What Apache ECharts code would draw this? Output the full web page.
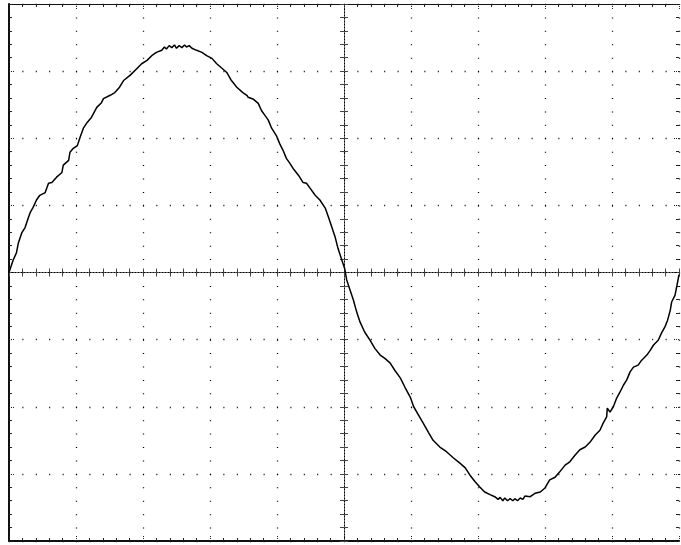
<!DOCTYPE html>
<html><head><meta charset="utf-8">
<script src="https://cdn.jsdelivr.net/npm/echarts@6/dist/echarts.min.js"></script>
<style>html,body{margin:0;padding:0;background:#fff}#c{width:681px;height:545px}</style>
</head><body><div id="c"></div>
<script>
const timeDiv = [
-5.00,-4.94,-4.89,-4.86,-4.81,-4.76,-4.71,-4.68,-4.64,-4.59,-4.54,-4.46,-4.41,-4.36,-4.29,-4.21,-4.19,-4.11,-4.09,-4.04,
-3.98,-3.94,-3.89,-3.83,-3.77,-3.69,-3.62,-3.59,-3.49,-3.42,-3.35,-3.29,-3.19,-3.09,-3.02,-2.94,-2.87,-2.80,-2.72,-2.68,
-2.65,-2.61,-2.57,-2.53,-2.50,-2.46,-2.42,-2.38,-2.35,-2.31,-2.27,-2.20,-2.12,-2.05,-1.97,-1.90,-1.83,-1.75,-1.68,-1.60,
-1.51,-1.45,-1.43,-1.35,-1.28,-1.23,-1.18,-1.13,-1.08,-1.01,-0.96,-0.91,-0.86,-0.81,-0.76,-0.68,-0.61,-0.56,-0.51,-0.43,
-0.36,-0.28,-0.23,-0.18,-0.13,-0.09,-0.04,0.01,0.04,0.09,0.14,0.19,0.24,0.31,0.39,0.46,0.54,0.61,0.69,0.76,
0.84,0.91,0.99,1.04,1.11,1.18,1.26,1.33,1.43,1.53,1.63,1.73,1.81,1.88,1.96,2.03,2.10,2.18,2.25,2.30,
2.33,2.37,2.40,2.44,2.48,2.52,2.55,2.59,2.63,2.67,2.70,2.78,2.85,2.93,3.00,3.07,3.15,3.22,3.30,3.37,
3.45,3.52,3.60,3.67,3.75,3.82,3.87,3.92,3.93,3.97,4.02,4.07,4.12,4.17,4.22,4.27,4.32,4.39,4.44,4.52,
4.57,4.62,4.69,4.74,4.79,4.83,4.87,4.89,4.94,4.97,5.00
];
const voltDiv = [
0.00,0.18,0.29,0.44,0.59,0.67,0.82,0.90,0.97,1.08,1.15,1.19,1.33,1.34,1.42,1.49,1.60,1.67,1.79,1.85,
1.89,2.01,2.15,2.24,2.31,2.46,2.53,2.59,2.64,2.68,2.76,2.86,2.94,3.04,3.11,3.16,3.23,3.28,3.31,3.36,
3.33,3.38,3.35,3.39,3.34,3.38,3.35,3.39,3.36,3.38,3.34,3.31,3.28,3.23,3.19,3.11,3.05,2.98,2.86,2.76,
2.68,2.64,2.61,2.58,2.52,2.41,2.34,2.27,2.15,2.04,1.92,1.82,1.70,1.63,1.55,1.45,1.34,1.33,1.26,1.15,
1.08,0.96,0.82,0.67,0.52,0.36,0.21,0.06,-0.11,-0.26,-0.41,-0.59,-0.74,-0.89,-1.01,-1.13,-1.23,-1.28,-1.35,-1.46,
-1.57,-1.71,-1.86,-2.00,-2.12,-2.24,-2.38,-2.50,-2.60,-2.67,-2.76,-2.84,-2.91,-3.02,-3.12,-3.20,-3.27,-3.31,-3.34,-3.38,
-3.35,-3.40,-3.36,-3.40,-3.37,-3.40,-3.37,-3.40,-3.36,-3.38,-3.33,-3.34,-3.29,-3.27,-3.21,-3.09,-3.05,-2.97,-2.87,-2.82,
-2.72,-2.64,-2.60,-2.53,-2.42,-2.35,-2.24,-2.15,-2.02,-2.08,-2.00,-1.87,-1.78,-1.68,-1.60,-1.48,-1.41,-1.38,-1.31,-1.23,
-1.16,-1.08,-1.01,-0.90,-0.81,-0.71,-0.56,-0.44,-0.34,-0.19,-0.03
];
const xMin = -5, xMax = 5, yMin = -4, yMax = 4;

const traceData = timeDiv.map((t, i) => [t, voltDiv[i]]);
const dark = '#111';
const dotCol = '#000';

function borderAxis(pos, showLine, lineW, isX) {
  return {
    type: 'value', min: isX ? xMin : yMin, max: isX ? xMax : yMax, interval: 1,
    position: pos,
    axisLine: { show: showLine, onZero: false, lineStyle: { color: dark, width: lineW } },
    axisTick: { show: true, inside: true, length: 6, lineStyle: { color: '#222', type: [1, 1] } },
    minorTick: { show: true, splitNumber: 5, length: 3, lineStyle: { color: '#222' } },
    splitLine: { show: false },
    axisLabel: { show: false }
  };
}
function centerAxis(isX, inside) {
  return {
    type: 'value', min: isX ? xMin : yMin, max: isX ? xMax : yMax, interval: 1,
    position: isX ? 'bottom' : 'left',
    axisLine: { show: true, onZero: true, onZeroAxisIndex: 0, lineStyle: { color: '#000', width: 1, type: [1, 2] } },
    axisTick: { show: true, inside: inside, length: 4, lineStyle: { color: '#444' } },
    minorTick: { show: true, splitNumber: 5, length: 4, lineStyle: { color: '#444' } },
    splitLine: { show: false },
    axisLabel: { show: false }
  };
}

const xMain = borderAxis('bottom', true, 2, true);
xMain.splitLine = { show: true, lineStyle: { color: dotCol, width: 1.3, type: [1, 12.425] } };
const yMain = borderAxis('left', true, 2, false);
yMain.splitLine = { show: true, lineStyle: { color: dotCol, width: 1.3, type: [1, 12.4] } };

const chart = echarts.init(document.getElementById('c'), null, { renderer: 'canvas' });
chart.setOption({
  animation: false,
  backgroundColor: '#fff',
  grid: { left: 9, right: 2, top: 4, bottom: 4, containLabel: false },
  xAxis: [xMain, borderAxis('top', true, 1, true), centerAxis(true, true), centerAxis(true, false)],
  yAxis: [yMain, borderAxis('right', false, 1, false), centerAxis(false, true), centerAxis(false, false)],
  series: [{
    type: 'line', xAxisIndex: 0, yAxisIndex: 0,
    data: traceData, showSymbol: false, symbol: 'none',
    lineStyle: { color: '#000', width: 1.5 },
    z: 10
  }]
});
</script>
</body></html>
